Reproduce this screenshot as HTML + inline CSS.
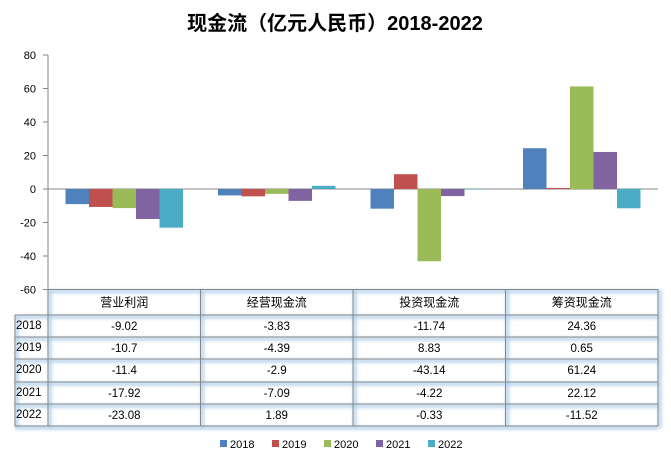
<!DOCTYPE html>
<html><head><meta charset="utf-8"><style>
body{margin:0;background:#fff;font-family:"Liberation Sans","Noto Sans CJK SC",sans-serif;}
svg text{font-family:"Liberation Sans","Noto Sans CJK SC",sans-serif;}
</style></head><body>
<svg id="chart" width="671" height="461" xmlns="http://www.w3.org/2000/svg">
<defs><filter id="glow" x="-5%" y="-5%" width="110%" height="110%"><feGaussianBlur stdDeviation="1.5"/></filter></defs>
<text x="335" y="30" text-anchor="middle" font-size="20" font-weight="bold" fill="#000">现金流（亿元人民币）2018-2022</text>
<g id="axes"></g><g id="bars"></g><g id="table"></g><g id="legend"></g>
</svg>
<script>
const categories=["营业利润","经营现金流","投资现金流","筹资现金流"];
const years=["2018","2019","2020","2021","2022"];
const s2018=[-9.02,-3.83,-11.74,24.36];
const s2019=[-10.7,-4.39,8.83,0.65];
const s2020=[-11.4,-2.9,-43.14,61.24];
const s2021=[-17.92,-7.09,-4.22,22.12];
const s2022=[-23.08,1.89,-0.33,-11.52];
const yTicks=[80,60,40,20,0,-20,-40,-60];
const series=[s2018,s2019,s2020,s2021,s2022];
const colors=["#4f81bd","#c0504d","#9bbb59","#8064a2","#4bacc6"];
const NS="http://www.w3.org/2000/svg";
const X0=48,X1=658,YT=55,YB=289.5,vMax=80,vMin=-60;
const y=v=>YT+(vMax-v)*(YB-YT)/(vMax-vMin);
const gw=(X1-X0)/categories.length;
const x=i=>X0+i*gw;
function mk(tag,attrs,parent){const e=document.createElementNS(NS,tag);for(const k in attrs)e.setAttribute(k,attrs[k]);parent.appendChild(e);return e;}
const axes=document.getElementById('axes');
let l=mk('line',{x1:X0,y1:YT,x2:X0,y2:YB,stroke:'#868686'},axes);


yTicks.forEach(t=>{
 const tk=mk('line',{x1:X0-5,y1:y(t),x2:X0,y2:y(t),stroke:'#868686'},axes);
 
 
 const tx=mk('text',{x:X0-12,y:y(t)+4,'text-anchor':'end','font-size':11,fill:'#000'},axes);
 tx.textContent=t;
 
 
});
const bars=document.getElementById('bars');
const bw=23.5,pad=(gw-bw*5)/2;
series.forEach((s,si)=>s.forEach((v,ci)=>{
 const r=mk('rect',{x:x(ci)+pad+si*bw,y:Math.min(y(v),y(0)),width:bw,height:Math.abs(y(v)-y(0)),fill:colors[si]},bars);
 
 
}));
let z=mk('line',{x1:X0,y1:y(0),x2:X1,y2:y(0),stroke:'#868686'},axes);


// table
const tb=document.getElementById('table');
const rowsY=[289.5,315,337,359,382,404,426];
const LX=15;
const glow=mk('g',{filter:'url(#glow)',stroke:'#9dc3e6','stroke-width':3,opacity:0.8},tb);


const grid=mk('g',{stroke:'#868686','stroke-width':1},tb);


for(let r=0;r<rowsY.length;r++){
 const xs=r===0?X0:LX;
 mk('line',{x1:xs,y1:rowsY[r]+2,x2:X1,y2:rowsY[r]+2},glow);
 mk('line',{x1:xs,y1:rowsY[r],x2:X1,y2:rowsY[r]},grid);
}
mk('line',{x1:LX,y1:rowsY[1],x2:LX,y2:rowsY[6]},grid);
mk('line',{x1:LX+2,y1:rowsY[1],x2:LX+2,y2:rowsY[6]+2},glow);
for(let c=0;c<=categories.length;c++){
 mk('line',{x1:x(c),y1:YT,x2:x(c),y2:rowsY[6]},grid).setAttribute('y1',rowsY[0]);
 mk('line',{x1:x(c)+2,y1:rowsY[0],x2:x(c)+2,y2:rowsY[6]+2},glow);
}
categories.forEach((c,i)=>{
 const t=mk('text',{x:x(i)+gw/2,y:rowsY[0]+17,'text-anchor':'middle','font-size':12,fill:'#000'},tb);
 t.textContent=c;
 
 
});
years.forEach((yr,ri)=>{
 const t=mk('text',{x:LX+1,y:rowsY[ri+1]+14,'font-size':11.5,fill:'#000'},tb);
 t.textContent=yr;
 
 
 series[ri].forEach((v,ci)=>{
  const d=mk('text',{x:x(ci)+gw/2,y:rowsY[ri+1]+15,'text-anchor':'middle','font-size':11.5,fill:'#000'},tb);
  d.textContent=v;
  
  
 });
});
// legend
const lg=document.getElementById('legend');
const lx0=220,step=52;
years.forEach((yr,i)=>{
 const g=mk('g',{},lg);
 
 
 mk('rect',{x:lx0+i*step,y:440,width:7,height:7,fill:colors[i]},g);
 const t=mk('text',{x:lx0+i*step+10,y:448,'font-size':11,fill:'#000'},g);
 t.textContent=yr;
});
</script>
</body></html>
